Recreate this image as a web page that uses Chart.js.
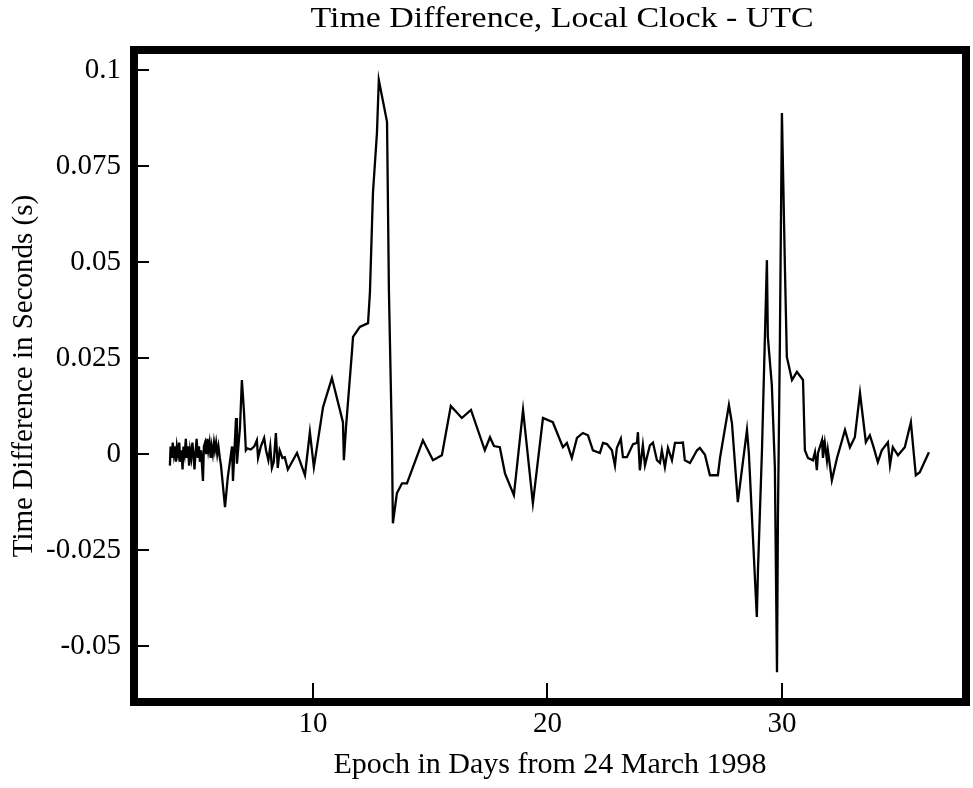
<!DOCTYPE html>
<html>
<head>
<meta charset="utf-8">
<script src="https://cdn.jsdelivr.net/npm/chart.js@4.4.1/dist/chart.umd.min.js"></script>
<style>
  html, body { margin: 0; padding: 0; background: #fff; }
  #wrap { width: 973px; height: 788px; position: relative; }
</style>
</head>
<body>
<div id="wrap"><canvas id="c"></canvas></div>
<script>
const chartTitle = "Time Difference, Local Clock - UTC";
const xAxisTitle = "Epoch in Days from 24 March 1998";
const yAxisTitle = "Time Difference in Seconds (s)";

const xTicks = [10, 20, 30];
const yTicks = [-0.05, -0.025, 0, 0.025, 0.05, 0.075, 0.1];
const yTickLabels = ["-0.05", "-0.025", "0", "0.025", "0.05", "0.075", "0.1"];

const xDays = [
  3.90, 3.93, 3.98, 4.02, 4.07, 4.11, 4.16, 4.20, 4.25, 4.30, 4.34, 4.39, 4.44, 4.48, 4.53, 4.58,
  4.62, 4.67, 4.72, 4.76, 4.81, 4.86, 4.90, 4.95, 5.00, 5.04, 5.09, 5.14, 5.18, 5.23, 5.31, 5.35,
  5.40, 5.45, 5.50, 5.54, 5.59, 5.64, 5.68, 5.73, 5.78, 5.82, 5.87, 5.92, 5.97, 6.03, 6.08, 6.25,
  6.37, 6.55, 6.59, 6.72, 6.76, 6.89, 6.97, 7.06, 7.14, 7.20, 7.35, 7.50, 7.61, 7.66, 7.78, 7.92,
  8.00, 8.10, 8.18, 8.25, 8.33, 8.42, 8.50, 8.58, 8.70, 8.80, 8.93, 9.32, 9.66, 9.87, 10.04, 10.43,
  10.81, 11.28, 11.32, 11.41, 11.66, 11.71, 12.00, 12.35, 12.43, 12.56, 12.73, 12.81, 13.16, 13.24, 13.37, 13.41,
  13.58, 13.80, 14.01, 14.69, 15.12, 15.50, 15.88, 16.35, 16.74, 17.33, 17.55, 17.72, 17.97, 18.19, 18.57, 18.96,
  19.38, 19.81, 20.23, 20.66, 20.83, 21.04, 21.26, 21.51, 21.73, 21.94, 22.24, 22.37, 22.54, 22.75, 22.88, 22.96,
  23.13, 23.22, 23.39, 23.65, 23.82, 23.86, 23.94, 24.07, 24.16, 24.37, 24.50, 24.67, 24.80, 24.88, 25.01, 25.14,
  25.31, 25.44, 25.65, 25.78, 25.86, 26.08, 26.38, 26.50, 26.72, 26.93, 27.27, 27.36, 27.74, 27.87, 28.12, 28.51,
  28.59, 28.93, 28.98, 29.15, 29.36, 29.40, 29.57, 29.70, 29.79, 29.83, 29.91, 30.00, 30.13, 30.21, 30.43, 30.64,
  30.90, 30.98, 31.11, 31.32, 31.41, 31.49, 31.54, 31.71, 31.75, 31.83, 31.92, 31.96, 32.13, 32.35, 32.69, 32.90,
  33.11, 33.33, 33.58, 33.75, 33.90, 34.09, 34.26, 34.52, 34.61, 34.73, 34.95, 35.24, 35.50, 35.71, 35.88, 36.27
];
const ySeconds = [
  -0.003, 0.002, -0.001, 0.003, 0.000, 0.002, -0.002, 0.002, 0.000, 0.003, -0.002, 0.001, -0.004, 0.002, 0.000, 0.004,
  -0.001, 0.002, -0.003, 0.001, -0.001, 0.003, 0.000, -0.004, 0.001, 0.004, -0.001, 0.002, -0.002, 0.001, -0.007, 0.002,
  0.003, 0.000, 0.004, 0.001, 0.003, -0.001, 0.002, 0.000, 0.003, 0.001, 0.003, 0.000, 0.002, -0.001, -0.003, -0.0138,
  -0.006, 0.002, -0.007, 0.0094, -0.0025, 0.007, 0.0193, 0.011, 0.001, 0.0015, 0.0012, 0.002, 0.0036, -0.001, 0.002, 0.0042,
  0.001, -0.0016, 0.002, -0.0036, -0.002, 0.0055, -0.0036, 0.001, -0.001, -0.0008, -0.004, 0.0003, -0.0055, 0.0057, -0.0034, 0.0122,
  0.0198, 0.0083, -0.0016, 0.007, 0.0263, 0.0305, 0.0331, 0.0341, 0.042, 0.068, 0.0836, 0.0974, 0.0865, 0.0427, 0.003, -0.018,
  -0.0102, -0.0076, -0.0076, 0.0036, -0.0016, -0.0003, 0.0125, 0.0094, 0.0115, 0.001, 0.0044, 0.0021, 0.0018, -0.005, -0.0107, 0.0115,
  -0.0128, 0.0094, 0.0083, 0.0018, 0.0029, -0.001, 0.0042, 0.0055, 0.0049, 0.001, 0.0003, 0.0029, 0.0026, 0.001, -0.003, 0.0016,
  0.004, -0.0008, -0.0008, 0.0026, 0.0029, 0.0057, -0.0042, 0.0023, -0.0029, 0.0023, 0.003, -0.0016, -0.0023, 0.001, -0.0034, 0.0016,
  -0.0016, 0.0029, 0.0029, 0.003, -0.0016, -0.0023, 0.001, 0.0016, -0.0002, -0.0055, -0.0055, -0.001, 0.0128, 0.008, -0.0125, 0.0063,
  0.0003, -0.0424, -0.030, 0.001, 0.0505, 0.0305, 0.018, -0.0034, -0.0568, -0.0164, 0.027, 0.0888, 0.048, 0.0253, 0.0193, 0.0214,
  0.0193, 0.001, -0.001, -0.0016, 0.0005, -0.0042, 0.0003, 0.0036, -0.001, 0.0029, -0.0016, 0.001, -0.0068, -0.001, 0.0063, 0.0018,
  0.0044, 0.0159, 0.0031, 0.0049, 0.002, -0.0021, 0.001, 0.0031, -0.0029, 0.0018, -0.0003, 0.0018, 0.0083, -0.0055, -0.0047, 0.0005
];

const points = xDays.map((x, i) => ({ x: x, y: ySeconds[i] }));

const FONT = "'Liberation Serif', 'Times New Roman', serif";

const framePlugin = {
  id: 'frame',
  afterDraw(chart) {
    const ctx = chart.ctx;
    const a = chart.chartArea;
    const xs = chart.scales.x, ys = chart.scales.y;
    ctx.save();
    ctx.strokeStyle = '#000';
    // inward tick marks
    ctx.lineWidth = 2;
    yTicks.forEach(v => {
      const py = Math.round(ys.getPixelForValue(v));
      ctx.beginPath();
      ctx.moveTo(a.left, py);
      ctx.lineTo(a.left + 11, py);
      ctx.stroke();
    });
    xTicks.forEach(v => {
      const px = Math.round(xs.getPixelForValue(v));
      ctx.beginPath();
      ctx.moveTo(px, a.bottom);
      ctx.lineTo(px, a.bottom - 15);
      ctx.stroke();
    });
    // thick frame
    ctx.lineWidth = 8;
    ctx.strokeRect(a.left - 4, a.top - 4, a.right - a.left + 8, a.bottom - a.top + 8);
    // title (horizontally stretched like the reference typeface)
    ctx.fillStyle = '#000';
    ctx.font = "29px " + FONT;
    ctx.textAlign = 'center';
    ctx.textBaseline = 'middle';
    ctx.translate(562, 19);
    ctx.scale(1.17, 1);
    ctx.fillText(chartTitle, 0, 0);
    ctx.restore();
  }
};

new Chart(document.getElementById('c'), {
  type: 'line',
  data: {
    datasets: [{
      data: points,
      borderColor: '#000',
      borderWidth: 2.3,
      pointRadius: 0,
      tension: 0,
      fill: false
    }]
  },
  options: {
    responsive: true,
    maintainAspectRatio: false,
    animation: false,
    events: [],
    layout: { padding: { top: 54, right: 11, left: 0, bottom: 0 } },
    plugins: { legend: { display: false }, title: { display: false }, tooltip: { enabled: false } },
    scales: {
      x: {
        type: 'linear',
        min: 2.54,
        max: 37.68,
        afterFit(s) { s.height = 90; },
        afterBuildTicks(s) { s.ticks = xTicks.map(v => ({ value: v })); },
        grid: { display: false, drawTicks: false },
        border: { display: false },
        ticks: {
          color: '#000',
          font: { family: FONT, size: 29 },
          padding: 9,
          maxRotation: 0,
          callback: v => String(v)
        },
        title: {
          display: true,
          text: xAxisTitle,
          color: '#000',
          font: { family: FONT, size: 30 },
          padding: { top: 0, bottom: 5 }
        }
      },
      y: {
        type: 'linear',
        min: -0.0635,
        max: 0.10417,
        afterFit(s) { s.width = 138; },
        afterBuildTicks(s) { s.ticks = yTicks.map(v => ({ value: v })); },
        grid: { display: false, drawTicks: false },
        border: { display: false },
        ticks: {
          color: '#000',
          font: { family: FONT, size: 29 },
          padding: 17,
          callback: (v) => {
            const i = yTicks.findIndex(t => Math.abs(t - v) < 1e-9);
            return i >= 0 ? yTickLabels[i] : '';
          }
        },
        title: {
          display: true,
          text: yAxisTitle,
          color: '#000',
          font: { family: FONT, size: 29 },
          padding: { top: 7, bottom: 0 }
        }
      }
    }
  },
  plugins: [framePlugin]
});
</script>
</body>
</html>
